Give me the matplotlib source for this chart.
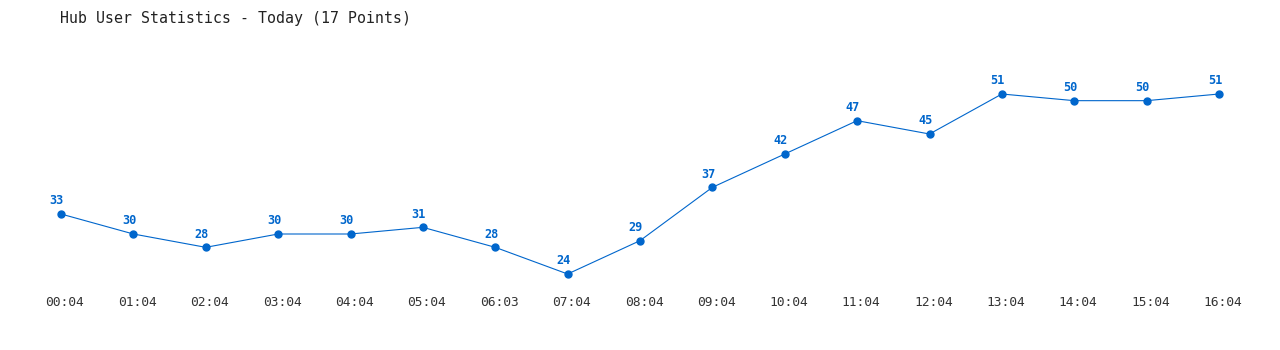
import matplotlib
matplotlib.use("Agg")
import matplotlib.pyplot as plt
from matplotlib.transforms import ScaledTranslation

times = ["00:04", "01:04", "02:04", "03:04", "04:04", "05:04", "06:03", "07:04",
         "08:04", "09:04", "10:04", "11:04", "12:04", "13:04", "14:04", "15:04", "16:04"]
users = [33, 30, 28, 30, 30, 31, 28, 24, 29, 37, 42, 47, 45, 51, 50, 50, 51]

color = "#0066cc"
W, H = 1280, 350
fig = plt.figure(figsize=(W / 100, H / 100), dpi=100)
left_px, right_px, top_px, bottom_px = 61, 1219, 40, 290
ax = fig.add_axes([left_px / W, (H - bottom_px) / H, (right_px - left_px) / W, (bottom_px - top_px) / H])

x = list(range(len(times)))
ax.plot(x, users, color=color, lw=0.8, marker="o", ms=5, clip_on=False)
for xi, v in zip(x, users):
    ax.annotate(str(v), (xi, v), xytext=(-3, 9.5), textcoords="offset points",
                ha="center", va="center", fontsize=8.6, fontweight="bold",
                color=color, family="DejaVu Sans Mono")

ax.set_xlim(0, len(times) - 1)
ax.set_ylim(21.6, 59.1)
ax.set_xticks(x)
ax.set_xticklabels(times, family="DejaVu Sans Mono", fontsize=9.3, color="#333333")
ax.tick_params(axis="x", length=0, pad=4.5)
shift = ScaledTranslation(4 / 100, 0, fig.dpi_scale_trans)
for lab in ax.get_xticklabels():
    lab.set_transform(lab.get_transform() + shift)
ax.set_yticks([])
for s in ax.spines.values():
    s.set_visible(False)

fig.text(60 / W, 1 - 18 / H, "Hub User Statistics - Today (17 Points)", ha="left", va="center",
         family="DejaVu Sans Mono", fontsize=10.7, color="#222222")

fig.savefig("out.png", dpi=100)
